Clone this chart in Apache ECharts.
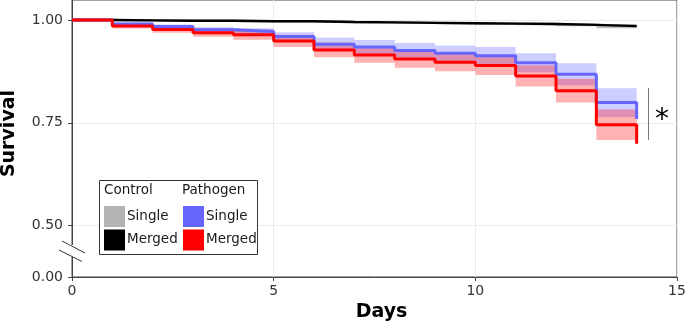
<!DOCTYPE html>
<html>
<head>
<meta charset="utf-8">
<script src="https://cdn.jsdelivr.net/npm/echarts@6/dist/echarts.min.js"></script>
<style>
html, body { margin: 0; padding: 0; background: #fff; }
#main { width: 685px; height: 321px; }
</style>
</head>
<body>
<div id="main"></div>
<script>
// day of each step (Kaplan-Meier, value holds until next day)
var days = [0, 1, 2, 3, 4, 5, 6, 7, 8, 9, 10, 11, 12, 13, 14];

// Control
var controlSingle = [1.000, 0.999, 0.998, 0.998, 0.997, 0.997, 0.995, 0.994, 0.993, 0.992, 0.991, 0.990, 0.988, 0.985, 0.985];
var controlMerged = [1.000, 0.999, 0.998, 0.998, 0.997, 0.997, 0.995, 0.994, 0.993, 0.992, 0.991, 0.990, 0.988, 0.985, 0.985];
var controlLow    = [1.000, 0.998, 0.9965, 0.9965, 0.995, 0.995, 0.993, 0.992, 0.9905, 0.9895, 0.988, 0.987, 0.9845, 0.980, 0.980];
var controlHigh   = [1.000, 1.000, 0.9995, 0.9995, 0.999, 0.999, 0.997, 0.996, 0.9955, 0.9945, 0.994, 0.993, 0.9915, 0.990, 0.990];

// Pathogen
var pathogenSingle = [1.000, 0.990, 0.984, 0.976, 0.972, 0.960, 0.941, 0.934, 0.926, 0.919, 0.913, 0.896, 0.868, 0.799, 0.759];
var pathSingleLow  = [1.000, 0.986, 0.979, 0.970, 0.964, 0.950, 0.925, 0.917, 0.908, 0.900, 0.892, 0.873, 0.841, 0.764, 0.764];
var pathSingleHigh = [1.000, 0.994, 0.989, 0.982, 0.980, 0.970, 0.957, 0.951, 0.944, 0.938, 0.934, 0.919, 0.895, 0.834, 0.834];

var pathogenMerged = [1.000, 0.985, 0.977, 0.969, 0.964, 0.949, 0.927, 0.915, 0.905, 0.897, 0.889, 0.864, 0.828, 0.745, 0.699];
var pathMergedLow  = [1.000, 0.979, 0.969, 0.959, 0.952, 0.934, 0.909, 0.896, 0.884, 0.875, 0.866, 0.838, 0.799, 0.708, 0.708];
var pathMergedHigh = [1.000, 0.991, 0.985, 0.979, 0.976, 0.964, 0.945, 0.934, 0.926, 0.919, 0.912, 0.890, 0.857, 0.782, 0.782];

// axes (the y axis is broken: 0.00 sits just below 0.50)
var xTicks = [0, 5, 10, 15];
var yFloor = 0.375;
var yTicks = [yFloor, 0.5, 0.75, 1.0];
var yTickLabels = ['0.00', '0.50', '0.75', '1.00'];

var font = 'DejaVu Sans';

function pairs(ys) {
    return days.map(function (d, i) { return [d, ys[i]]; });
}

// confidence band drawn as one stepped polygon
function band(low, high, color) {
    return {
        type: 'custom',
        coordinateSystem: 'cartesian2d',
        silent: true,
        clip: false,
        z: 2,
        data: [[0, 1]],
        renderItem: function (params, api) {
            var top = [], bottom = [];
            for (var i = 0; i < days.length - 1; i++) {
                top.push(api.coord([days[i], high[i]]));
                top.push(api.coord([days[i + 1], high[i]]));
                bottom.push(api.coord([days[i], low[i]]));
                bottom.push(api.coord([days[i + 1], low[i]]));
            }
            return {
                type: 'polygon',
                shape: { points: top.concat(bottom.reverse()) },
                style: { fill: color }
            };
        }
    };
}

function km(name, ys, color, width, z) {
    return {
        name: name,
        type: 'line',
        step: 'end',
        showSymbol: false,
        symbol: 'none',
        data: pairs(ys),
        lineStyle: { color: color, width: width },
        z: z
    };
}

var chart = echarts.init(document.getElementById('main'));
var option = {
    animation: false,
    backgroundColor: '#fff',
    textStyle: { fontFamily: font },
    grid: {
        left: 72, right: 8, top: 0, bottom: 44,
        containLabel: false,
        outerBoundsMode: 'none',
        show: true, borderColor: '#444', borderWidth: 1
    },
    xAxis: {
        type: 'value',
        min: 0, max: 15, interval: 2.5,
        name: 'Days',
        nameLocation: 'middle',
        nameGap: 21,
        nameTextStyle: { fontSize: 19, fontWeight: 'bold', color: '#000', fontFamily: font, padding: [0, 0, 0, 14] },
        axisLine: { lineStyle: { color: '#444' } },
        axisTick: { show: true, length: 4, customValues: xTicks, lineStyle: { color: '#444' } },
        axisLabel: { customValues: xTicks, fontSize: 14, color: '#333', margin: 7 },
        splitLine: { show: true, lineStyle: { color: '#ebebeb', width: 1 } }
    },
    yAxis: {
        type: 'value',
        min: yFloor, max: 1.0485, interval: 0.125,
        name: 'Survival',
        nameLocation: 'middle',
        nameRotate: 90,
        nameGap: 53,
        nameTextStyle: { fontSize: 19, fontWeight: 'bold', color: '#000', fontFamily: font, padding: [0, 0, 0, 10] },
        axisLine: { show: true, lineStyle: { color: '#444' } },
        axisTick: { show: true, length: 4, customValues: yTicks, lineStyle: { color: '#444' } },
        axisLabel: {
            customValues: yTicks,
            fontSize: 14, color: '#333', margin: 9,
            formatter: function (v) {
                var i = yTicks.indexOf(v);
                return i >= 0 ? yTickLabels[i] : '';
            }
        },
        splitLine: { show: true, lineStyle: { color: '#ebebeb', width: 1 } }
    },
    series: [
        band(controlLow, controlHigh, 'rgba(120,120,120,0.45)'),
        band(pathSingleLow, pathSingleHigh, 'rgba(102,102,255,0.33)'),
        band(pathMergedLow, pathMergedHigh, 'rgba(255,0,0,0.3)'),
        km('Control Single', controlSingle, '#b3b3b3', 2.4, 3),
        km('Pathogen Single', pathogenSingle, '#6666ff', 3, 4),
        km('Control Merged', controlMerged, '#000', 2.4, 5),
        km('Pathogen Merged', pathogenMerged, '#ff0000', 3, 6)
    ],
    graphic: [
        // axis break marks
        { type: 'rect', shape: { x: 70, y: 245, width: 4, height: 12 }, style: { fill: '#fff' }, z: 100 },
        { type: 'line', shape: { x1: 62, y1: 241, x2: 85, y2: 253 }, style: { stroke: '#333', lineWidth: 1 }, z: 101 },
        { type: 'line', shape: { x1: 59, y1: 250, x2: 82, y2: 261.5 }, style: { stroke: '#333', lineWidth: 1 }, z: 101 },
        // significance marker
        { type: 'line', shape: { x1: 648.5, y1: 88, x2: 648.5, y2: 140 }, style: { stroke: '#777', lineWidth: 1 }, z: 100 },
        { type: 'text', x: 662, y: 121, style: { text: '*', font: '28px "DejaVu Sans"', fill: '#000', align: 'center', verticalAlign: 'middle' }, z: 100 },
        // legend
        { type: 'rect', shape: { x: 99.5, y: 180.5, width: 158, height: 74 }, style: { fill: '#fff', stroke: '#333', lineWidth: 1 }, z: 100 },
        { type: 'text', x: 104, y: 190.5, style: { text: 'Control', font: '13.5px "DejaVu Sans"', fill: '#1a1a1a', verticalAlign: 'middle' }, z: 101 },
        { type: 'text', x: 182, y: 190.5, style: { text: 'Pathogen', font: '13.5px "DejaVu Sans"', fill: '#1a1a1a', verticalAlign: 'middle' }, z: 101 },
        { type: 'rect', shape: { x: 104, y: 206, width: 21, height: 21 }, style: { fill: '#b3b3b3' }, z: 101 },
        { type: 'rect', shape: { x: 104, y: 229.5, width: 21, height: 21 }, style: { fill: '#000' }, z: 101 },
        { type: 'rect', shape: { x: 183, y: 206, width: 21, height: 21 }, style: { fill: '#6666ff' }, z: 101 },
        { type: 'rect', shape: { x: 183, y: 229.5, width: 21, height: 21 }, style: { fill: '#ff0000' }, z: 101 },
        { type: 'text', x: 127, y: 216.5, style: { text: 'Single', font: '13.5px "DejaVu Sans"', fill: '#1a1a1a', verticalAlign: 'middle' }, z: 101 },
        { type: 'text', x: 127, y: 239.5, style: { text: 'Merged', font: '13.5px "DejaVu Sans"', fill: '#1a1a1a', verticalAlign: 'middle' }, z: 101 },
        { type: 'text', x: 206, y: 216.5, style: { text: 'Single', font: '13.5px "DejaVu Sans"', fill: '#1a1a1a', verticalAlign: 'middle' }, z: 101 },
        { type: 'text', x: 206, y: 239.5, style: { text: 'Merged', font: '13.5px "DejaVu Sans"', fill: '#1a1a1a', verticalAlign: 'middle' }, z: 101 }
    ]
};
chart.setOption(option);
window.addEventListener('resize', function () {
    chart.resize();
});
</script>
</body>
</html>
